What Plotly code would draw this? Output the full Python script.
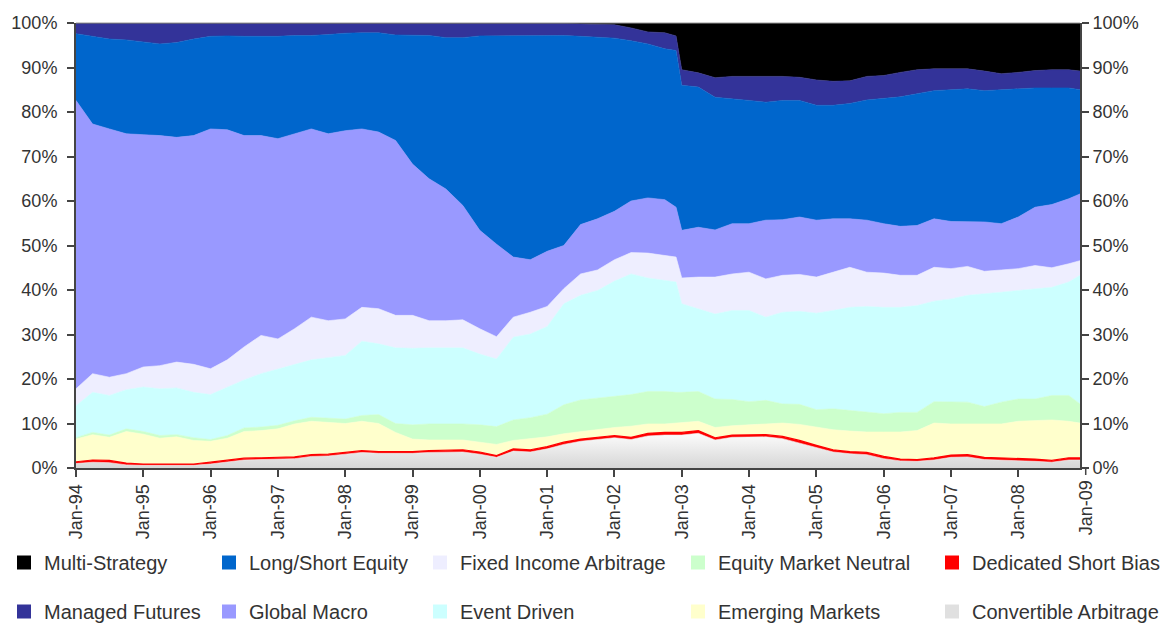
import plotly.graph_objects as go
import pandas as pd

# Quarterly observation dates (plus Dec-02 and Dec-08)
dates = [
    "1994-01-01", "1994-04-01", "1994-07-01", "1994-10-01",
    "1995-01-01", "1995-04-01", "1995-07-01", "1995-10-01",
    "1996-01-01", "1996-04-01", "1996-07-01", "1996-10-01",
    "1997-01-01", "1997-04-01", "1997-07-01", "1997-10-01",
    "1998-01-01", "1998-04-01", "1998-07-01", "1998-10-01",
    "1999-01-01", "1999-04-01", "1999-07-01", "1999-10-01",
    "2000-01-01", "2000-04-01", "2000-07-01", "2000-10-01",
    "2001-01-01", "2001-04-01", "2001-07-01", "2001-10-01",
    "2002-01-01", "2002-04-01", "2002-07-01", "2002-10-01",
    "2002-12-01",
    "2003-01-01", "2003-04-01", "2003-07-01", "2003-10-01",
    "2004-01-01", "2004-04-01", "2004-07-01", "2004-10-01",
    "2005-01-01", "2005-04-01", "2005-07-01", "2005-10-01",
    "2006-01-01", "2006-04-01", "2006-07-01", "2006-10-01",
    "2007-01-01", "2007-04-01", "2007-07-01", "2007-10-01",
    "2008-01-01", "2008-04-01", "2008-07-01", "2008-10-01",
    "2008-12-01",
]

convertible_arbitrage = [
    1.0, 1.3, 1.2, 0.7, 0.6, 0.6, 0.6, 0.6, 0.9, 1.3, 1.8, 1.9,
    2.0, 2.1, 2.6, 2.7, 3.1, 3.5, 3.3, 3.3, 3.3, 3.5, 3.5, 3.6,
    3.1, 2.4, 3.8, 3.6, 4.3, 5.3, 6.0, 6.4, 6.8, 6.4, 7.2, 7.4,
    7.4,
    7.4, 7.8, 6.3, 6.9, 7.0, 7.0, 6.6, 5.6, 4.6, 3.6, 3.2, 3.0,
    2.1, 1.6, 1.5, 1.8, 2.4, 2.5, 1.9, 1.8, 1.7, 1.5, 1.3, 1.8,
    1.8,
]
dedicated_short_bias = [
    0.4, 0.5, 0.5, 0.4, 0.3, 0.3, 0.3, 0.3, 0.4, 0.4, 0.4, 0.4,
    0.4, 0.4, 0.4, 0.4, 0.4, 0.4, 0.4, 0.4, 0.4, 0.4, 0.5, 0.5,
    0.5, 0.4, 0.5, 0.5, 0.5, 0.5, 0.5, 0.5, 0.5, 0.5, 0.6, 0.6,
    0.6,
    0.6, 0.6, 0.5, 0.5, 0.5, 0.5, 0.5, 0.6, 0.5, 0.5, 0.5, 0.5,
    0.5, 0.4, 0.4, 0.5, 0.5, 0.5, 0.5, 0.5, 0.5, 0.5, 0.4, 0.5,
    0.5,
]
emerging_markets = [
    5.1, 5.7, 5.2, 7.1, 6.7, 5.8, 6.1, 5.3, 4.7, 5.0, 6.0, 6.1,
    6.4, 7.4, 7.5, 7.2, 6.5, 6.6, 6.3, 4.3, 2.8, 2.4, 2.3, 2.2,
    2.2, 2.5, 1.9, 2.5, 2.2, 1.9, 1.7, 1.7, 1.8, 2.5, 2.1, 1.9,
    2.1,
    2.3, 2.1, 2.3, 2.1, 2.2, 2.4, 3.0, 3.6, 4.1, 4.5, 4.6, 4.6,
    5.5, 6.1, 6.5, 7.8, 7.0, 6.9, 7.5, 7.6, 8.3, 8.7, 9.1, 8.2,
    7.8,
]
equity_market_neutral = [
    0.3, 0.5, 0.5, 0.6, 0.6, 0.6, 0.5, 0.6, 0.4, 0.6, 0.8, 0.8,
    0.8, 0.7, 0.9, 0.9, 1.0, 1.3, 2.0, 2.0, 3.2, 3.6, 3.6, 3.6,
    3.9, 4.0, 4.6, 4.7, 5.1, 6.5, 7.1, 7.1, 6.9, 7.1, 7.3, 7.3,
    6.9,
    6.7, 6.7, 6.4, 5.9, 5.2, 5.3, 4.3, 4.5, 3.9, 4.7, 4.6, 4.4,
    4.1, 4.4, 4.1, 4.8, 4.9, 4.9, 3.9, 4.9, 5.0, 4.8, 5.5, 5.8,
    4.3,
]
event_driven = [
    7.2, 9.0, 8.9, 8.8, 10.0, 10.5, 10.5, 10.2, 10.1, 10.9, 10.8, 12.0,
    12.7, 12.7, 12.9, 13.6, 14.3, 16.7, 15.9, 17.0, 17.2, 17.1, 17.1, 17.1,
    15.9, 15.2, 18.6, 18.8, 19.7, 22.7, 23.5, 24.2, 26.0, 27.1, 25.5, 24.9,
    24.8,
    19.9, 18.6, 19.1, 20.0, 20.5, 18.7, 20.6, 20.9, 21.7, 22.1, 23.2, 23.8,
    23.9, 23.6, 24.0, 22.6, 23.2, 24.0, 25.3, 24.7, 24.4, 24.8, 24.3, 25.5,
    28.9,
]
fixed_income_arbitrage = [
    3.8, 4.2, 4.1, 3.6, 4.5, 5.2, 5.8, 6.3, 5.8, 6.1, 7.4, 8.6,
    6.7, 8.0, 9.6, 8.3, 8.2, 7.6, 7.9, 7.3, 7.4, 6.1, 6.1, 6.3,
    5.7, 5.0, 4.5, 4.9, 4.5, 3.4, 4.8, 4.6, 4.8, 4.8, 5.6, 5.7,
    5.6,
    5.8, 7.1, 8.3, 8.2, 8.6, 8.6, 8.3, 8.3, 8.1, 8.6, 9.0, 7.7,
    7.7, 7.2, 6.8, 7.6, 6.8, 6.5, 5.1, 5.0, 4.9, 5.2, 4.4, 4.1,
    3.3,
]
global_macro = [
    64.8, 56.1, 55.8, 53.9, 52.2, 51.7, 50.5, 51.4, 53.9, 51.7, 47.5, 44.9,
    45.0, 43.8, 42.3, 42.0, 42.3, 40.1, 39.7, 39.3, 34.0, 31.9, 29.6, 25.7,
    22.1, 20.8, 13.5, 11.8, 12.4, 9.7, 11.1, 11.5, 10.9, 11.6, 12.4, 12.5,
    11.2,
    10.7, 11.2, 10.6, 11.3, 10.9, 13.2, 12.5, 12.9, 12.8, 12.0, 10.9, 11.7,
    11.1, 11.0, 11.2, 10.9, 10.6, 10.0, 11.1, 10.4, 11.6, 13.1, 14.2, 14.6,
    15.0,
]
long_short_equity = [
    15.0, 19.7, 20.2, 21.1, 20.8, 20.6, 21.3, 21.7, 20.8, 21.1, 22.3, 22.3,
    23.0, 22.1, 21.0, 22.3, 21.9, 21.6, 22.3, 23.7, 29.0, 32.2, 34.0, 37.7,
    43.7, 46.8, 49.8, 50.4, 48.5, 47.2, 42.3, 40.8, 38.9, 36.0, 34.6, 33.9,
    35.2,
    32.6, 31.5, 29.8, 28.1, 27.7, 26.5, 26.8, 26.2, 25.8, 25.5, 25.9, 27.0,
    28.2, 29.1, 29.6, 28.8, 29.6, 29.9, 29.5, 30.1, 28.8, 26.8, 26.2, 24.9,
    23.4,
]
managed_futures = [
    2.4, 3.0, 3.6, 3.8, 4.3, 4.7, 4.4, 3.6, 3.0, 2.9, 3.0, 3.0,
    3.0, 2.8, 2.8, 2.6, 2.3, 2.2, 2.2, 2.7, 2.7, 2.8, 3.3, 3.3,
    2.9, 2.9, 2.8, 2.8, 2.7, 2.7, 2.8, 2.9, 3.0, 2.9, 2.7, 3.6,
    3.3,
    3.5, 3.2, 4.4, 5.0, 5.4, 5.8, 5.4, 5.2, 5.7, 5.4, 5.1, 5.3,
    5.1, 5.5, 5.4, 4.9, 4.7, 4.5, 4.4, 3.6, 3.7, 3.9, 4.1, 4.1,
    4.2,
]
multi_strategy = [
    0.0, 0.0, 0.0, 0.0, 0.0, 0.0, 0.0, 0.0, 0.0, 0.0, 0.0, 0.0,
    0.0, 0.0, 0.0, 0.0, 0.0, 0.0, 0.0, 0.0, 0.0, 0.0, 0.0, 0.0,
    0.0, 0.0, 0.0, 0.0, 0.1, 0.1, 0.2, 0.3, 0.4, 1.1, 2.0, 2.2,
    2.9,
    10.5, 11.2, 12.3, 12.0, 12.0, 12.0, 12.0, 12.2, 12.8, 13.1, 13.0, 12.0,
    11.8, 11.1, 10.5, 10.3, 10.3, 10.3, 10.8, 11.4, 11.1, 10.7, 10.5, 10.5,
    10.8,
]

year_ticks = [f"{y}-01-01" for y in range(1994, 2009)]
year_labels = [f"Jan-{str(y)[2:]}" for y in range(1994, 2009)]
pct_ticks = list(range(0, 101, 10))
pct_labels = [f"{v}%" for v in pct_ticks]

# (name, values, colour), bottom of the stack first
series = [
    ("Convertible Arbitrage", convertible_arbitrage, "#dcdcdc"),
    ("Dedicated Short Bias", dedicated_short_bias, "#ff0000"),
    ("Emerging Markets", emerging_markets, "#ffffcc"),
    ("Equity Market Neutral", equity_market_neutral, "#ccffcc"),
    ("Event Driven", event_driven, "#ccffff"),
    ("Fixed Income Arbitrage", fixed_income_arbitrage, "#eeeeff"),
    ("Global Macro", global_macro, "#9999ff"),
    ("Long/Short Equity", long_short_equity, "#0066cc"),
    ("Managed Futures", managed_futures, "#333399"),
    ("Multi-Strategy", multi_strategy, "#000000"),
]

fig = go.Figure()
for i, (name, vals, color) in enumerate(series):
    kw = dict(
        x=dates, y=vals, name=name, mode="lines", stackgroup="one",
        line=dict(width=0.6, color=color), fillcolor=color,
        showlegend=False, hoverinfo="x+y+name",
    )
    if i == 0:
        kw["groupnorm"] = "percent"
        kw["fillgradient"] = dict(
            type="vertical", colorscale=[[0, "#d6d6d6"], [1, "#fcfcfc"]]
        )
        kw["line"] = dict(width=0.6, color="#f0f0f0")
    if name == "Dedicated Short Bias":
        kw["line"] = dict(width=1.2, color=color)
    fig.add_trace(go.Scatter(**kw))

# invisible trace so that the right-hand axis is drawn
fig.add_trace(go.Scatter(x=[dates[0]], y=[None], yaxis="y2", showlegend=False,
                         mode="lines", hoverinfo="skip"))

# legend: 5 columns x 2 rows, one legend box per entry
FONT = "Liberation Sans, Arial, Helvetica, sans-serif"
plot_left, plot_w = 76, 1004
plot_bottom, plot_h = 467.5, 445
col_text_x = [44, 249, 460, 718, 972]
row_y = [562, 611]
legend_layout = [
    ("Multi-Strategy", 0, 0), ("Long/Short Equity", 1, 0),
    ("Fixed Income Arbitrage", 2, 0), ("Equity Market Neutral", 3, 0),
    ("Dedicated Short Bias", 4, 0),
    ("Managed Futures", 0, 1), ("Global Macro", 1, 1),
    ("Event Driven", 2, 1), ("Emerging Markets", 3, 1),
    ("Convertible Arbitrage", 4, 1),
]
colors = {n: c for n, _, c in series}
colors["Convertible Arbitrage"] = "#e0e0e0"
legend_defs = {}
for j, (name, col, row) in enumerate(legend_layout):
    key = "legend" if j == 0 else f"legend{j + 1}"
    fig.add_trace(go.Scatter(
        x=[None], y=[None], mode="markers", name=name, legend=key,
        marker=dict(symbol="square", size=14, color=colors[name], line=dict(width=0)),
        showlegend=True, hoverinfo="skip",
    ))
    legend_defs[key] = dict(
        x=(col_text_x[col] - 40 - plot_left) / plot_w,
        y=(plot_bottom - row_y[row]) / plot_h,
        xanchor="left", yanchor="middle",
        font=dict(family=FONT, size=20, color="#333333"),
        bgcolor="rgba(0,0,0,0)", borderwidth=0, itemwidth=30,
    )

x_start = pd.Timestamp("1994-01-01")
x_end = pd.Timestamp("2008-12-01")
x_jan09 = (pd.Timestamp("2009-01-01") - x_start) / (x_end - x_start)

axis_font = dict(family=FONT, size=18, color="#333333")
fig.update_layout(
    width=1163, height=625,
    margin=dict(l=76, r=83, t=23, b=157, pad=0, autoexpand=False),
    paper_bgcolor="white", plot_bgcolor="white",
    font=dict(family=FONT, color="#333333"),
    xaxis=dict(
        type="date", range=[x_start, x_end],
        tickvals=year_ticks, ticktext=year_labels, tickangle=-90,
        ticks="outside", ticklen=7, tickwidth=1.5, tickcolor="#444444",
        showline=True, linecolor="#444444", linewidth=2,
        showgrid=False, zeroline=False, tickfont=axis_font,
    ),
    yaxis=dict(
        range=[0, 100], tickvals=pct_ticks, ticktext=pct_labels,
        ticks="outside", ticklen=7, tickwidth=1.5, tickcolor="#444444",
        showline=True, linecolor="#444444", linewidth=2,
        showgrid=False, zeroline=False, tickfont=axis_font,
        ticklabelstandoff=6,
    ),
    yaxis2=dict(
        range=[0, 100], tickvals=pct_ticks, ticktext=pct_labels,
        overlaying="y", side="right",
        ticks="outside", ticklen=7, tickwidth=1.5, tickcolor="#444444",
        showline=True, linecolor="#444444", linewidth=2,
        showgrid=False, zeroline=False, tickfont=axis_font,
    ),
    shapes=[
        dict(type="line", xref="paper", yref="paper", x0=0, x1=1, y0=1, y1=1,
             line=dict(color="#9a9a9a", width=1.2)),
        dict(type="line", xref="paper", yref="paper", x0=x_jan09, x1=x_jan09,
             y0=0, y1=-7 / plot_h, line=dict(color="#444444", width=1.5)),
    ],
    annotations=[
        dict(text="Jan-09", xref="paper", yref="paper", x=x_jan09,
             y=-10 / plot_h, xanchor="center", yanchor="top", textangle=-90,
             showarrow=False, font=axis_font),
    ],
    **legend_defs,
)

fig.write_html(
    "out.html",
    config={"displayModeBar": False},
    post_script="document.body.style.margin='0px';document.body.style.padding='0px';",
)
